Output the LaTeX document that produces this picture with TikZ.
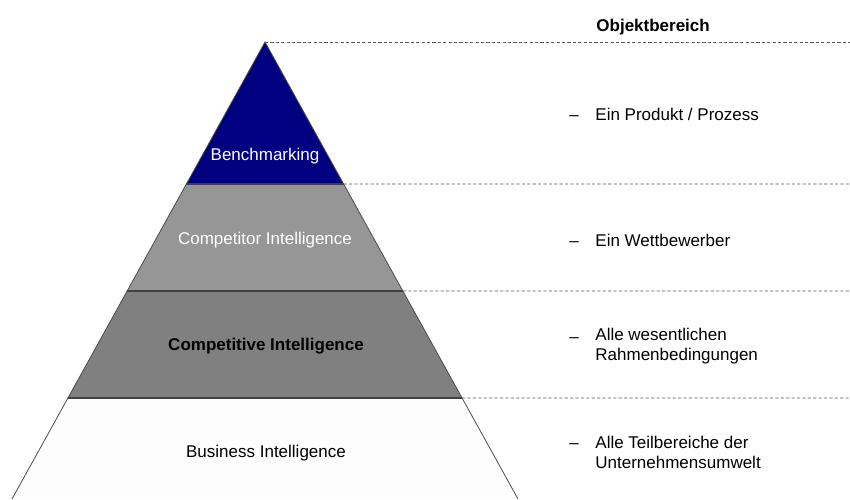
\documentclass[tikz,border=0pt]{standalone}
\usepackage{fontspec}
\setmainfont{Liberation Sans}
\usepackage{tikz}
\usetikzlibrary{calc}
\tikzstyle{every node}=[font=\fontsize{8.5}{10}\selectfont, inner sep=0pt]
\tikzset{
	stufe/.style={draw=black!70, line width=0.4pt},
	trenner/.style={draw=black!75, line width=0.9pt},
	hilfslinie/.style={draw=black!65, line width=0.4pt, dash pattern=on 1.6pt off 1.1pt},
	beschr/.style={anchor=west, align=left},
	strich/.style={anchor=base}
}
\begin{document}
\begin{tikzpicture}[x=0.5pt, y=-0.5pt]
	\useasboundingbox (0,0) rectangle (850,499);
	%\draw[opacity=0.1] (0,0) grid[step=50] (850,499);

	\definecolor{bench}{RGB}{0,0,128};
	\definecolor{compor}{RGB}{150,150,150};
	\definecolor{compve}{RGB}{128,128,128};
	\definecolor{busin}{RGB}{253,253,253};

%%%%     PYRAMIDE     %%%%

	%main points
	\coordinate (top) at (265,42);
	\coordinate (bl) at (12,499);
	\coordinate (br) at (518,499);

	\coordinate (l1) at ($(top)!0.3107!(bl)$);
	\coordinate (r1) at ($(top)!0.3107!(br)$);
	\coordinate (l2) at ($(top)!0.5449!(bl)$);
	\coordinate (r2) at ($(top)!0.5449!(br)$);
	\coordinate (l3) at ($(top)!0.7790!(bl)$);
	\coordinate (r3) at ($(top)!0.7790!(br)$);

	% stufe unten
	\fill[busin] (l3) -- (r3) -- (br) -- (bl) -- cycle;
	\draw[stufe] (l3) -- (bl);
	\draw[stufe] (r3) -- (br);

	% stufe mitte
	\draw[stufe, fill=compve] (l2) -- (r2) -- (r3) -- (l3) -- cycle;

	% stufe oben
	\draw[stufe, fill=compor] (l1) -- (r1) -- (r2) -- (l2) -- cycle;

	% spitze
	\draw[stufe, fill=bench] (top) -- (r1) -- (l1) -- cycle;

	% trennlinien
	\draw[trenner] (l1) -- (r1);
	\draw[trenner] (l2) -- (r2);
	\draw[trenner] (l3) -- (r3);

	\node[text=white] (bm) at (265,156) {Benchmarking};
	\node[text=white] (cpi) at (265,240) {Competitor Intelligence};
	\node[font=\fontsize{8.5}{10}\selectfont\bfseries] (cvi) at (266,346) {Competitive Intelligence};
	\node (bi) at (266,453) {Business Intelligence};

%%%%     OBJEKTBEREICH     %%%%

	% rechte enden
	\coordinate (e0) at (850,42);
	\coordinate (e1) at (850,184);
	\coordinate (e2) at (850,291);
	\coordinate (e3) at (850,398);

	\draw[hilfslinie] (top) -- (e0);
	\draw[hilfslinie] (r1) -- (e1);
	\draw[hilfslinie] (r2) -- (e2);
	\draw[hilfslinie] (r3) -- (e3);

	\node[beschr, font=\fontsize{8.5}{10}\selectfont\bfseries] (kopf) at (596,27) {Objektbereich};

	\node[strich] (s1) at (574,120) {--};
	\node[beschr] (t1) at (595,114) {Ein Produkt / Prozess};
	\node[strich] (s2) at (574,246) {--};
	\node[beschr] (t2) at (595,240) {Ein Wettbewerber};
	\node[strich] (s3) at (574,342) {--};
	\node[beschr] (t3) at (595,346) {Alle wesentlichen\\Rahmenbedingungen};
	\node[strich] (s4) at (574,448) {--};
	\node[beschr] (t4) at (595,452) {Alle Teilbereiche der\\Unternehmensumwelt};

\end{tikzpicture}
\end{document}
